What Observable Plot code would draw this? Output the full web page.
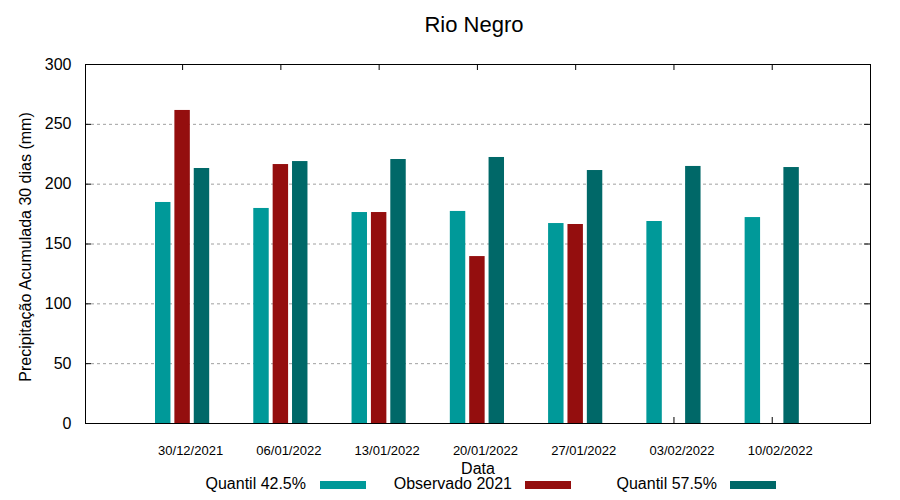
<!DOCTYPE html>
<html>
<head>
<meta charset="utf-8">
<script src="https://cdn.jsdelivr.net/npm/d3@7"></script>
<script src="https://cdn.jsdelivr.net/npm/@observablehq/plot@0.6"></script>
<style>
  body { margin: 0; background: white; font-family: "Liberation Sans", Arial, sans-serif; color: black; }
  #wrap { width: 900px; height: 500px; position: relative; overflow: hidden; }
  #title { height: 50px; display: flex; align-items: center; justify-content: center; padding-left: 48px; box-sizing: border-box; font-size: 22px; }
  #legend { position: relative; width: 900px; height: 25px; font-size: 16px; }
  #legend .lab { position: absolute; top: 0; line-height: 18px; white-space: nowrap; text-align: right; }
  #legend .sw { position: absolute; top: 6px; width: 46px; height: 8px; }
</style>
</head>
<body>
<div id="wrap">
  <div id="title">Rio Negro</div>
  <div id="chart"></div>
  <div id="legend"></div>
</div>
<script>
// ---- data ----
const dates = ["2021-12-30", "2022-01-06", "2022-01-13", "2022-01-20", "2022-01-27", "2022-02-03", "2022-02-10"];
const quantil425 = [184.7, 179.7, 176.3, 177.2, 167.1, 168.8, 172.1];
const observado2021 = [261.6, 216.4, 176.3, 139.5, 166.3, null, null];
const quantil575 = [213.1, 218.9, 220.6, 222.3, 211.4, 214.8, 213.9];
const seriesNames = ["Quantil 42.5%", "Observado 2021", "Quantil 57.5%"];
const seriesColors = ["#009999", "#940e0e", "#006868"];
const yTicks = [0, 50, 100, 150, 200, 250, 300];
const xDomain = ["2021-12-23T02:00Z", "2022-02-17T00:00Z"];

// ---- build table ----
const DAY = 864e5;
const seriesValues = [quantil425, observado2021, quantil575];
const dateObjs = dates.map(d => new Date(d + "T00:00Z"));
const rows = [];
seriesValues.forEach((vals, k) => {
  vals.forEach((v, i) => {
    if (v == null) return;
    const center = dateObjs[i].getTime() + (k - 1) * 1.38 * DAY;
    rows.push({
      series: seriesNames[k],
      date: dateObjs[i],
      value: v,
      x1: new Date(center - 0.55 * DAY),
      x2: new Date(center + 0.55 * DAY)
    });
  });
});
const yInner = yTicks.slice(1, -1);

const chart = Plot.plot({
  width: 900,
  height: 425,
  marginTop: 14,
  marginBottom: 52,
  marginLeft: 85,
  marginRight: 30,
  style: { fontFamily: "Liberation Sans, Arial, sans-serif", fontSize: "16px", background: "white", color: "black", overflow: "visible" },
  x: { type: "utc", domain: xDomain.map(d => new Date(d)) },
  y: { domain: [0, 300] },
  color: { domain: seriesNames, range: seriesColors },
  marks: [
    Plot.ruleY(yInner, { y: d => d, stroke: "#a0a0a0", strokeOpacity: 1, strokeDasharray: "3,3" }),
    Plot.tickY(yInner, { y: d => d, insetRight: 779, stroke: "black" }),
    Plot.tickY(yInner, { y: d => d, insetLeft: 779, stroke: "black" }),
    Plot.tickX(dateObjs, { x: d => d, insetTop: 353, stroke: "black" }),
    Plot.tickX(dateObjs, { x: d => d, insetBottom: 353, stroke: "black" }),
    Plot.rectY(rows, { x1: "x1", x2: "x2", y1: 0, y2: "value", fill: "series" }),
    Plot.frame({ stroke: "black", strokeWidth: 1 }),
    Plot.axisY(yTicks, { tickSize: 0, tickPadding: 14, fontSize: 16, label: null }),
    Plot.axisX(dateObjs, { tickSize: 0, tickPadding: 22, fontSize: 13, dx: 8, label: null, tickFormat: d3.utcFormat("%d/%m/%Y") }),
    Plot.text(["Data"], { text: d => d, frameAnchor: "bottom", dy: 45, fontSize: 16, lineAnchor: "middle" }),
    Plot.text(["Precipitação Acumulada 30 dias (mm)"], { text: d => d, frameAnchor: "left", textAnchor: "middle", lineAnchor: "middle", rotate: -90, dx: -60, dy: 3, fontSize: 16 })
  ]
});
document.getElementById("chart").appendChild(chart);

// ---- legend ----
const legend = document.getElementById("legend");
const legendLabelRight = [306, 512, 717];
const legendSwatchLeft = [320, 525, 730];
seriesNames.forEach((name, k) => {
  const lab = document.createElement("span");
  lab.className = "lab";
  lab.textContent = name;
  lab.style.right = (900 - legendLabelRight[k]) + "px";
  legend.appendChild(lab);
  const sw = document.createElement("span");
  sw.className = "sw";
  sw.style.left = legendSwatchLeft[k] + "px";
  sw.style.background = seriesColors[k];
  legend.appendChild(sw);
});
</script>
</body>
</html>
